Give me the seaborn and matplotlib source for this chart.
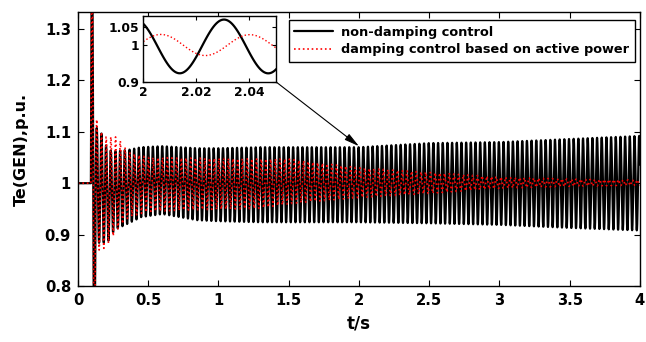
import numpy as np
import pandas as pd
import matplotlib
matplotlib.use("Agg")
import matplotlib.pyplot as plt
import seaborn as sns

# ---------------- data ----------------
# oscillation start time (s), flat at 1.0 p.u. before it
t_start = 0.092
# black: non-damping control -- envelope knots
black_t = [0.092, 0.100, 0.117, 0.128, 0.150, 0.175, 0.21, 0.26, 0.36, 0.45,
           0.60, 0.85, 1.00, 1.30, 2.00, 2.50, 3.00, 3.50, 4.00]
black_upper = [1.45, 1.45, 1.40, 1.110, 1.100, 1.095, 1.065, 1.062, 1.065, 1.070,
               1.072, 1.068, 1.068, 1.070, 1.070, 1.078, 1.080, 1.086, 1.092]
black_lower = [0.55, 0.55, 0.60, 0.880, 0.884, 0.884, 0.885, 0.909, 0.922, 0.934,
               0.940, 0.928, 0.926, 0.924, 0.924, 0.922, 0.919, 0.913, 0.908]
black_freq = 30.05  # Hz

# red: damping control based on active power
red_t = [0.092, 0.100, 0.117, 0.128, 0.165, 0.20, 0.28, 0.36, 0.50, 0.80,
         1.30, 1.50, 2.00, 2.50, 3.00, 3.50, 4.00]
red_upper = [1.45, 1.45, 1.40, 1.128, 1.100, 1.090, 1.090, 1.060, 1.050, 1.049,
             1.047, 1.047, 1.030, 1.021, 1.012, 1.008, 1.006]
red_lower = [0.55, 0.55, 0.60, 0.870, 0.870, 0.876, 0.910, 0.934, 0.945, 0.948,
             0.951, 0.960, 0.972, 0.980, 0.990, 0.994, 0.996]
red_freq = 29.9  # Hz

series_names = ["non-damping control", "damping control based on active power"]
main_yticks = [0.8, 0.9, 1.0, 1.1, 1.2, 1.3]
main_yticklabels = ["0.8", "0.9", "1", "1.1", "1.2", "1.3"]
main_xticks = [0, 0.5, 1, 1.5, 2, 2.5, 3, 3.5, 4]
main_xticklabels = ["0", "0.5", "1", "1.5", "2", "2.5", "3", "3.5", "4"]
inset_xticks = [2.0, 2.02, 2.04]
inset_xticklabels = ["2", "2.02", "2.04"]
inset_yticks = [0.9, 1.0, 1.05]
inset_yticklabels = ["0.9", "1", "1.05"]


def build(tk, up, lo, f):
    t = np.arange(0, 4.0 + 1e-9, 0.0005)
    up_i = np.interp(t, tk, up)
    lo_i = np.interp(t, tk, lo)
    amp = (up_i - lo_i) / 2
    cen = (up_i + lo_i) / 2
    y = cen + amp * np.sin(2 * np.pi * f * (t - t_start))
    y[t < t_start] = 1.0
    return t, y


tb, yb = build(black_t, black_upper, black_lower, black_freq)
tr, yr = build(red_t, red_upper, red_lower, red_freq)
df_black = pd.DataFrame({"t": tb, "Te": yb})
df_red = pd.DataFrame({"t": tr, "Te": yr})

# ---------------- styling ----------------
sns.set_style("ticks")
plt.rcParams["font.family"] = ["DejaVu Sans"]
plt.rcParams["font.weight"] = "bold"
for k in ["text.color", "axes.labelcolor", "xtick.color", "ytick.color",
          "axes.edgecolor"]:
    plt.rcParams[k] = "black"

fig = plt.figure(figsize=(6.46, 3.42), dpi=100)
ax = fig.add_axes([0.1207, 0.1637, 0.870, 0.8012])

sns.lineplot(data=df_black, x="t", y="Te", ax=ax, color="black", lw=1.6,
             estimator=None, label=series_names[0])
sns.lineplot(data=df_red, x="t", y="Te", ax=ax, color="#ff0000", lw=1.2,
             linestyle=":", estimator=None, label=series_names[1])

ax.set_xlim(0, 4)
ax.set_ylim(0.8, 1.333)
ax.set_xticks(main_xticks)
ax.set_xticklabels(main_xticklabels)
ax.set_yticks(main_yticks)
ax.set_yticklabels(main_yticklabels)
ax.tick_params(direction="in", top=True, right=True, length=4, width=0.8,
               labelsize=10.6, pad=5, colors="black")
for lab in ax.get_xticklabels() + ax.get_yticklabels():
    lab.set_fontweight("bold")
for s in ax.spines.values():
    s.set_linewidth(1.0)
    s.set_color("black")
    s.set_visible(True)
ax.set_xlabel("t/s", fontsize=12, fontweight="bold", color="black")
ax.set_ylabel("Te(GEN),p.u.", fontsize=11.5, fontweight="bold", color="black")
ax.xaxis.set_label_coords(0.5, -0.105)
ax.yaxis.set_label_coords(-0.087, 0.5)

leg = ax.legend(loc="upper right", bbox_to_anchor=(0.991, 0.971),
                borderaxespad=0, frameon=True, fancybox=False,
                handlelength=3.0, labelspacing=0.35, borderpad=0.45,
                handletextpad=0.6, prop={"weight": "bold", "size": 9.3})
leg.get_frame().set_edgecolor("black")
leg.get_frame().set_linewidth(1.0)
leg.get_frame().set_alpha(1)
for txt in leg.get_texts():
    txt.set_color("black")

# arrow from inset corner to the curve at t=2
ax.annotate("", xy=(2.0, 1.072), xytext=(1.41, 1.197),
            arrowprops=dict(arrowstyle="-|>,head_length=0.9,head_width=0.22",
                            color="black", lw=0.8, shrinkA=0, shrinkB=0))

# ---------------- inset ----------------
axi = fig.add_axes([0.2214, 0.760, 0.2059, 0.193])
mb = (df_black.t >= 1.999) & (df_black.t <= 2.051)
mr = (df_red.t >= 1.999) & (df_red.t <= 2.051)
sns.lineplot(data=df_black[mb], x="t", y="Te", ax=axi, color="black", lw=1.6,
             estimator=None)
sns.lineplot(data=df_red[mr], x="t", y="Te", ax=axi, color="#ff0000", lw=1.0,
             linestyle=":", estimator=None)
axi.set_xlim(2.0, 2.05)
axi.set_ylim(0.9, 1.08)
axi.set_xticks(inset_xticks)
axi.set_xticklabels(inset_xticklabels)
axi.set_yticks(inset_yticks)
axi.set_yticklabels(inset_yticklabels)
axi.set_xlabel("")
axi.set_ylabel("")
axi.tick_params(direction="in", top=True, right=True, length=3, width=0.8,
                labelsize=8.8, pad=3, colors="black")
for lab in axi.get_xticklabels() + axi.get_yticklabels():
    lab.set_fontweight("bold")
for s in axi.spines.values():
    s.set_linewidth(1.0)
    s.set_color("black")
    s.set_visible(True)
if axi.get_legend() is not None:
    axi.get_legend().remove()

fig.savefig("out.png", dpi=100)
